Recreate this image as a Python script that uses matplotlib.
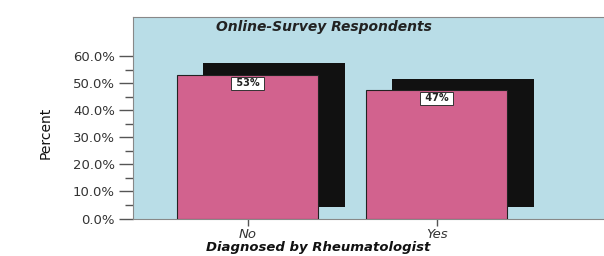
import matplotlib.pyplot as plt
import matplotlib.transforms as mtransforms
from matplotlib.ticker import FuncFormatter, FixedLocator

# Data
categories = ["No", "Yes"]
percents = [53.1, 47.5]
labels = ["53%", "47%"]
yticks = [0, 10, 20, 30, 40, 50, 60]

fig = plt.figure(figsize=(6.04, 2.56), dpi=100)
ax = fig.add_axes([133 / 604, 1 - 218.5 / 256, 471 / 604, 201.5 / 256])
ax.set_facecolor("#b9dde7")

x = list(range(len(categories)))

# Drop shadow: same bars shifted right/up
shadow = ax.transData + mtransforms.ScaledTranslation(0.265, 0.115, fig.dpi_scale_trans)
ax.bar(x, percents, width=0.75, color="#111111", transform=shadow, zorder=2)
ax.bar(x, percents, width=0.75, color="#d2628e", edgecolor="#222222", linewidth=0.8, zorder=3)

for xi, p, lab in zip(x, percents, labels):
    ax.annotate(" " + lab + " ", (xi, p), xytext=(0, -6), textcoords="offset points",
                ha="center", va="center", fontsize=7, fontweight="bold", color="#222222",
                bbox=dict(boxstyle="square,pad=0.15", fc="white", ec="#333333", lw=0.7), zorder=4)

ax.set_xlim(-0.606, 1.886)
ax.set_ylim(0, 74.5)
ax.yaxis.set_major_locator(FixedLocator(yticks))
ax.yaxis.set_minor_locator(FixedLocator([v + 5 for v in yticks[:-1]]))
ax.yaxis.set_major_formatter(FuncFormatter(lambda v, _: f"{v:.1f}%"))
ax.set_xticks(x)
ax.set_xticklabels(categories, fontstyle="italic")

ax.tick_params(axis="y", which="major", length=10, width=1, color="#555555",
               labelsize=9.5, labelcolor="#333333", pad=3)
ax.tick_params(axis="y", which="minor", length=6, width=1, color="#555555")
ax.tick_params(axis="x", length=5, width=1, color="#555555", labelsize=9.5,
               labelcolor="#333333", pad=2)

for side in ["left", "top", "bottom"]:
    ax.spines[side].set_color("#888888")
ax.spines["right"].set_visible(False)

ax.text(0.405, 0.985, "Online-Survey Respondents", transform=ax.transAxes,
        ha="center", va="top", fontsize=10, fontweight="bold", fontstyle="italic", color="#222222")
fig.text(318 / 604, 1 - 248 / 256, "Diagnosed by Rheumatologist", ha="center", va="center",
         fontsize=9.5, fontweight="bold", fontstyle="italic", color="#111111")
fig.text(46 / 604, 1 - 133 / 256, "Percent", rotation=90, ha="center", va="center",
         fontsize=10, color="#111111")

fig.savefig("out.png", dpi=100)
